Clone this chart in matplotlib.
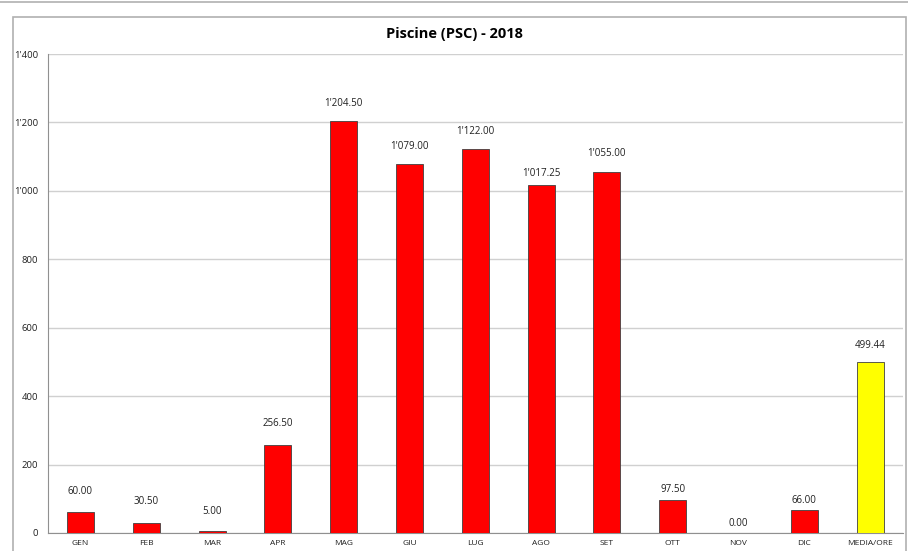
import matplotlib.pyplot as plt
from matplotlib.lines import Line2D
from matplotlib.patches import Rectangle
import numpy as np

# Monthly values
categories = ["GEN", "FEB", "MAR", "APR", "MAG", "GIU", "LUG", "AGO", "SET", "OTT", "NOV", "DIC", "MEDIA/ORE"]
values = [60.00, 30.50, 5.00, 256.50, 1204.50, 1079.00, 1122.00, 1017.25, 1055.00, 97.50, 0.00, 66.00, 499.44]
bar_colors = ["#FF0000"] * 12 + ["#FFFF00"]
y_ticks = [0, 200, 400, 600, 800, 1000, 1200, 1400]

# gap between bar top and label centre (pixels), as placed in the original
label_gap_px = [21, 21, 20, 22, 17, 17, 18, 11, 19, 10, 10, 10, 17]


def fmt(v, dec=2):
    s = f"{v:,.{dec}f}"
    return s.replace(",", "'")


plt.rcParams['font.family'] = ['Open Sans', 'DejaVu Sans']

fig = plt.figure(figsize=(9.08, 5.51), dpi=100)
W, H = 908, 551

# outer decorations: top separator line and chart frame
fig.add_artist(Line2D([0, 1], [1 - 1.5 / H, 1 - 1.5 / H], color="#b0b0b0", lw=1.2, transform=fig.transFigure))
fig.add_artist(Rectangle((13 / W, -0.01), (906 - 13) / W, 1 - 17 / H + 0.01, fill=False,
                         edgecolor="#b0b0b0", lw=1.2, transform=fig.transFigure))

ax = fig.add_axes([47.6 / W, 1 - 533 / H, (903 - 47.6) / W, (533 - 54) / H])

x = np.arange(len(categories))
bars = ax.bar(x, values, width=0.41, color=bar_colors, edgecolor="#404040", linewidth=0.6, zorder=3)

for xi, v, g in zip(x, values, label_gap_px):
    ax.annotate(fmt(v), (xi, v), xytext=(0, g * 0.72), textcoords="offset points",
                ha="center", va="center", fontsize=7, color="#202020")

ax.set_xlim(-0.5, len(categories) - 0.5)
ax.set_ylim(0, 1400)
ax.set_yticks(y_ticks)
ax.set_yticklabels([fmt(t, 0) for t in y_ticks], fontsize=6.8, color="#202020")
ax.set_xticks(x)
ax.set_xticklabels(categories, fontsize=6, color="#202020")
ax.tick_params(axis="both", length=0)
ax.tick_params(axis="y", pad=7)
ax.tick_params(axis="x", pad=5)

ax.yaxis.grid(True, color="#d0d0d0", lw=1.0, zorder=0)
ax.set_axisbelow(True)
for s in ["top", "right"]:
    ax.spines[s].set_visible(False)
ax.spines["left"].set_color("#909090")
ax.spines["bottom"].set_color("#909090")

fig.text(454 / W, 1 - 34 / H, "Piscine (PSC) - 2018", ha="center", va="center",
         fontsize=10.5, fontweight="bold", color="#000000")

plt.savefig("out.png", dpi=100)
